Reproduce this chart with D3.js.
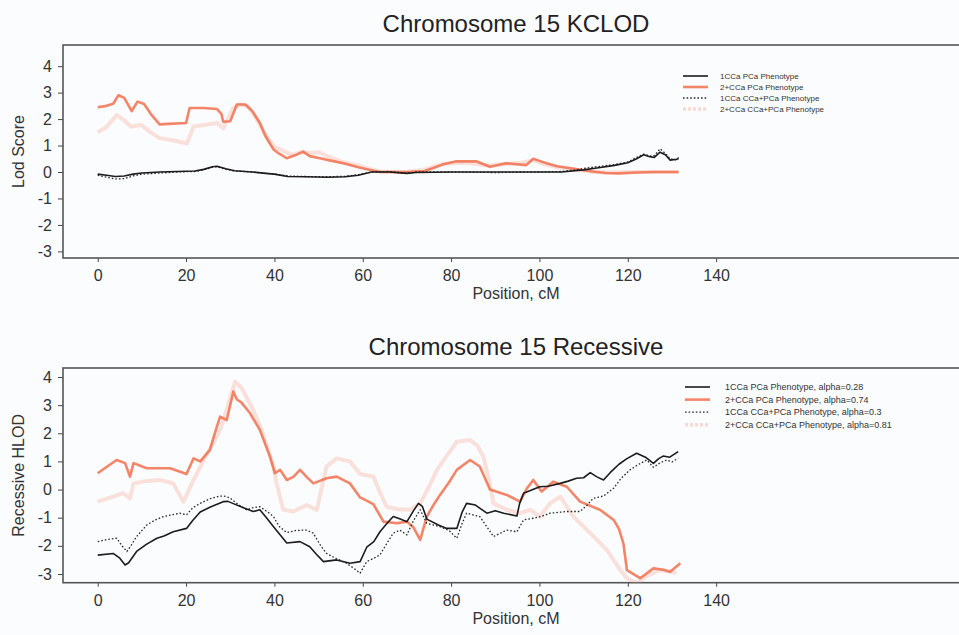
<!DOCTYPE html>
<html>
<head>
<meta charset="utf-8">
<script src="https://cdn.jsdelivr.net/npm/d3@7"></script>
<style>
	body { margin: 0; background: #fbfcfe; }
	svg { display: block; font-family: "Liberation Sans", Arial, sans-serif; }
	.axis_text { font-size: 16px; fill: #333; }
</style>
</head>
<body>
<div id="chart"></div>
<script>
// x ticks shared by both panels
const x_ticks = [0, 20, 40, 60, 80, 100, 120, 140];
const y_ticks = [-3, -2, -1, 0, 1, 2, 3, 4];

// KCLOD panel, [position cM, lod]
const kc_1cca_pca = [[0,-0.08],[2,-0.12],[4,-0.17],[6,-0.15],[8,-0.08],[10,-0.04],[14,0],[18,0.02],[22,0.04],[24,0.1],[26,0.2],[27,0.22],[29,0.12],[31,0.05],[35,0],[38,-0.05],[40,-0.08],[43,-0.17],[47,-0.18],[52,-0.2],[56,-0.18],[59,-0.12],[62,0],[66,0],[70,-0.05],[72,-0.02],[80,0],[90,0],[100,0],[105,0],[110,0.08],[113,0.15],[117,0.25],[120,0.35],[122,0.5],[123.6,0.65],[125,0.58],[126,0.55],[127.3,0.75],[128.5,0.65],[129.6,0.45],[131,0.48],[131.5,0.5]];
const kc_2cca_pca = [[0,2.45],[2,2.5],[3.5,2.58],[4.7,2.9],[6,2.8],[7.7,2.3],[9,2.66],[10.5,2.57],[12,2.2],[14,1.8],[16,1.82],[20,1.85],[20.8,2.42],[24,2.42],[27,2.38],[28,2.2],[28.4,1.9],[30,1.92],[31.5,2.55],[33.4,2.55],[35,2.3],[36.7,1.85],[38,1.35],[39.8,0.85],[41,0.7],[42.8,0.52],[44.5,0.62],[46.5,0.77],[48,0.6],[50.3,0.52],[53,0.42],[55.6,0.33],[59,0.18],[62.4,0.05],[64,0],[70,0],[74,0.04],[76,0.15],[78,0.28],[81,0.4],[85.8,0.4],[88.8,0.2],[92.5,0.33],[97,0.26],[98.6,0.5],[100,0.42],[101.6,0.33],[104,0.22],[107.7,0.12],[112,0.02],[115,-0.04],[118,-0.05],[122,-0.02],[126,0],[131.5,0]];
const kc_1cca_ccapca = [[0,-0.12],[2,-0.2],[4,-0.26],[6,-0.25],[8,-0.15],[10,-0.08],[14,-0.04],[18,0],[22,0.02],[24,0.08],[26,0.18],[27,0.2],[29,0.1],[31,0.04],[35,0],[38,-0.05],[40,-0.08],[43,-0.15],[47,-0.17],[52,-0.18],[56,-0.16],[59,-0.1],[62,0],[66,0.02],[70,-0.05],[72,0],[80,0],[90,-0.02],[100,0],[105,0.02],[108,0.08],[112,0.18],[117,0.28],[120,0.38],[122,0.55],[123.6,0.68],[125,0.6],[126,0.62],[127.3,0.88],[128.5,0.7],[129.6,0.5],[131,0.45],[131.5,0.55]];
const kc_2cca_ccapca = [[0,1.5],[2,1.7],[4.3,2.15],[6,1.95],[7.5,1.72],[9.8,1.78],[12,1.5],[14,1.28],[17,1.2],[20.2,1.08],[21.7,1.72],[24,1.78],[27,1.85],[28.4,1.65],[30.6,2.4],[32,2.55],[34,2.5],[36,2.0],[38,1.4],[40,0.95],[42,0.8],[44,0.65],[46,0.75],[48,0.72],[50,0.75],[52,0.6],[55,0.4],[59,0.25],[62,0.1],[64,0.02],[70,0],[74,0.1],[78,0.3],[82,0.35],[85,0.32],[88,0.25],[92,0.3],[96,0.35],[98.5,0.45],[101,0.3],[104,0.18],[108,0.1],[112,0],[116,-0.02],[120,0],[126,0],[131.5,0]];

// Recessive panel, [position cM, hlod]
const rec_1cca_pca = [[0,-2.33],[3.5,-2.27],[5,-2.44],[6.2,-2.68],[7,-2.6],[8.8,-2.2],[11,-1.95],[13.4,-1.73],[15,-1.65],[17.1,-1.5],[20.1,-1.38],[21.5,-1.1],[23.2,-0.8],[25.5,-0.62],[28.4,-0.43],[29.5,-0.42],[30.7,-0.5],[33,-0.65],[35.2,-0.78],[36.7,-0.72],[38.2,-1.0],[39.8,-1.32],[41,-1.55],[42.8,-1.9],[45.8,-1.85],[48,-2.03],[49.5,-2.3],[51.1,-2.56],[54.1,-2.5],[57.1,-2.62],[59.4,-2.56],[60.9,-2.05],[62.5,-1.85],[63.9,-1.5],[65.5,-1.2],[66.9,-0.96],[68.5,-1.05],[70,-1.14],[71.5,-0.75],[72.6,-0.49],[73.5,-0.6],[74.5,-1.05],[77,-1.25],[79,-1.38],[81.3,-1.38],[82.5,-0.8],[83.5,-0.49],[85.5,-0.55],[88.1,-0.84],[90,-0.75],[91.9,-0.84],[94.9,-0.94],[95.5,-0.5],[96.4,-0.13],[98.5,0],[100.1,0.1],[102,0.12],[104.7,0.22],[106.5,0.3],[108.4,0.4],[110,0.42],[111.5,0.6],[113,0.45],[114.5,0.34],[116,0.6],[118,0.9],[119.8,1.1],[122,1.29],[124,1.15],[125.8,0.93],[127,1.1],[128,1.19],[129.5,1.15],[131.4,1.35]];
const rec_2cca_pca = [[0,0.58],[2,0.8],[4.3,1.05],[6.2,0.94],[7.3,0.46],[8.1,0.94],[11.1,0.76],[16.4,0.76],[20.1,0.55],[21.7,1.11],[23.2,1.0],[25.4,1.41],[26.5,2.0],[27.7,2.59],[29.2,2.47],[30.7,3.48],[31.5,3.2],[32.5,3.1],[34.5,2.71],[36.7,2.12],[39,1.17],[40.1,0.58],[41.3,0.7],[42.8,0.34],[44.3,0.45],[45.8,0.7],[47.3,0.45],[48.8,0.22],[51.8,0.4],[54.1,0.46],[57.1,0.22],[59.4,-0.28],[62.4,-0.52],[64.7,-1.14],[67.7,-1.2],[70,-1.14],[71.5,-1.35],[73,-1.79],[74.5,-0.96],[76,-0.55],[77.5,-0.19],[79.5,0.25],[81.3,0.7],[84.3,1.05],[86.5,0.82],[88.8,0],[92.6,-0.19],[95.6,-0.43],[97,0],[98.6,0.34],[100.5,-0.07],[103.1,0.28],[106.2,0.1],[109.2,-0.43],[113.7,-0.72],[116.8,-1.08],[118,-1.4],[119,-1.91],[119.8,-2.86],[122.8,-3.15],[125.8,-2.8],[128,-2.85],[129.6,-2.92],[131.9,-2.62]];
const rec_1cca_ccapca = [[0,-1.85],[2,-1.78],[4.3,-1.73],[5.5,-2.0],[6.6,-2.2],[7.5,-2.0],[8.8,-1.67],[11.1,-1.26],[13,-1.08],[14.9,-0.96],[18.6,-0.84],[20.1,-0.9],[21.5,-0.65],[23.2,-0.49],[25.5,-0.32],[27.7,-0.23],[29,-0.24],[30,-0.31],[32,-0.55],[33.7,-0.72],[35,-0.65],[36.7,-0.61],[38.5,-0.8],[39.8,-0.96],[41,-1.3],[42.8,-1.53],[45,-1.45],[47.3,-1.44],[48.8,-1.55],[50.5,-2.0],[51.8,-2.27],[54,-2.45],[56.3,-2.62],[58,-2.8],[59.4,-2.97],[60.9,-2.56],[62.4,-2.45],[63.9,-2.32],[65.5,-1.9],[66.9,-1.55],[68.4,-1.44],[70,-1.61],[71.5,-1.1],[73,-0.72],[74.5,-1.2],[77.5,-1.32],[79.5,-1.45],[81.3,-1.73],[82.5,-1.2],[83.5,-0.84],[86.5,-0.96],[88,-1.3],[89.6,-1.67],[92.6,-1.44],[94.9,-1.5],[96.4,-1.08],[98.6,-1.02],[100.5,-0.95],[102.4,-0.84],[106.2,-0.78],[109.2,-0.78],[110.8,-0.55],[112.2,-0.31],[114.5,-0.23],[116.8,0.05],[118.5,0.4],[120.5,0.7],[122.5,0.9],[124.3,1.05],[125.8,0.79],[127.3,0.95],[128.8,1.05],[130,0.98],[131.4,1.11]];
const rec_2cca_ccapca = [[0,-0.43],[3.5,-0.25],[5.7,-0.13],[7.3,-0.31],[8.1,0.22],[11,0.3],[14.1,0.34],[17.1,0.22],[19.4,-0.43],[21.7,0.34],[24,1.05],[26,1.6],[27.7,2.12],[29.5,3.0],[31.1,3.83],[32.6,3.6],[35.2,2.83],[37.4,2.0],[39.8,0.82],[40.5,0.22],[42,-0.72],[44.3,-0.78],[47.3,-0.55],[49.6,-0.72],[51.8,0.82],[54.1,1.11],[57.1,1.0],[59.4,0.55],[62.4,0.46],[63.9,-0.1],[65.4,-0.61],[68,-0.7],[70.7,-0.72],[73,-0.49],[75,0.1],[76.8,0.7],[79,1.2],[81.3,1.7],[84.3,1.76],[86,1.55],[87.3,1.17],[88.5,0.4],[89.6,-0.49],[92.6,-0.72],[95.6,-0.84],[97.9,-0.72],[100.1,-0.96],[102.4,-0.49],[104.7,-0.25],[107.7,-0.96],[111.5,-1.55],[115.3,-2.15],[118.3,-2.86],[119.8,-3.15],[122,-3.33],[124,-3.1],[127.3,-2.86],[131,-2.97]];

const kc_labels = ["1CCa PCa Phenotype", "2+CCa PCa Phenotype", "1CCa CCa+PCa Phenotype", "2+CCa CCa+PCa Phenotype"];
const rec_labels = ["1CCa PCa Phenotype, alpha=0.28", "2+CCa PCa Phenotype, alpha=0.74", "1CCa CCa+PCa Phenotype, alpha=0.3", "2+CCa CCa+PCa Phenotype, alpha=0.81"];

// line styles, same order as the labels
const styles = [
	{stroke: "#1c1c1c", width: 1.6, dash: null, opacity: 1},
	{stroke: "#f26a48", width: 2.6, dash: null, opacity: 0.82},
	{stroke: "#2a2a2a", width: 1.3, dash: "1.6,2", opacity: 1},
	{stroke: "#f7a58e", width: 4, dash: null, opacity: 0.32}
];

const W = 959, H = 635;
const svg = d3.select("#chart").append("svg")
	.attr("width", W)
	.attr("height", H);

class lod_panel {
	constructor(opts) {
		this.series = opts.series;
		this.labels = opts.labels;
		this.title = opts.title;
		this.y_label = opts.y_label;
		this.top = opts.top;
		this.bottom = opts.bottom;
		this.y_domain = opts.y_domain;
		this.legend = opts.legend;
		this.id = opts.id;
		this.left = 63;
		this.right = 975;
		this.init();
	}

	init() {
		this.g = svg.append("g");
		this.create_scales();
		this.create_axes();
		this.create_lines();
		this.create_legend();
	}

	create_scales() {
		this.x_scale = d3.scaleLinear()
			.domain([-7.86, 198.6])
			.range([this.left, this.right]);
		this.y_scale = d3.scaleLinear()
			.domain(this.y_domain)
			.range([this.bottom, this.top]);
	}

	create_axes() {
		const mid = (this.left + 969) / 2;

		this.g.append("text")
			.attr("x", mid)
			.attr("y", this.top - 13)
			.attr("text-anchor", "middle")
			.style("font-size", "24px")
			.style("fill", "#222")
			.text(this.title);

		this.g.append("g")
			.attr("transform", `translate(0,${this.bottom})`)
			.call(d3.axisBottom(this.x_scale).tickValues(x_ticks).tickSize(4).tickPadding(8))
			.call(g => g.select(".domain").remove())
			.call(g => g.selectAll("line").attr("stroke", "#444"))
			.selectAll("text")
			.attr("class", "axis_text");

		// plain hyphen for negatives, like the original
		this.g.append("g")
			.attr("transform", `translate(${this.left},0)`)
			.call(d3.axisLeft(this.y_scale).tickValues(y_ticks).tickFormat(d => String(d)).tickSize(5).tickPadding(6))
			.call(g => g.select(".domain").remove())
			.call(g => g.selectAll("line").attr("stroke", "#444"))
			.selectAll("text")
			.attr("class", "axis_text");

		this.g.append("text")
			.attr("x", mid)
			.attr("y", this.bottom + 41)
			.attr("text-anchor", "middle")
			.attr("class", "axis_text")
			.text("Position, cM");

		this.g.append("text")
			.attr("transform", `translate(24,${(this.top + this.bottom) / 2}) rotate(-90)`)
			.attr("text-anchor", "middle")
			.attr("class", "axis_text")
			.text(this.y_label);

		// plot box, right edge falls off the picture
		this.g.append("rect")
			.attr("x", this.left)
			.attr("y", this.top)
			.attr("width", this.right - this.left)
			.attr("height", this.bottom - this.top)
			.attr("fill", "none")
			.attr("stroke", "#555")
			.attr("stroke-width", 1.6);
	}

	create_lines() {
		this.g.append("clipPath")
			.attr("id", "clip_" + this.id)
			.append("rect")
			.attr("x", this.left)
			.attr("y", this.top)
			.attr("width", this.right - this.left)
			.attr("height", this.bottom - this.top);

		const line = d3.line()
			.x(d => this.x_scale(d[0]))
			.y(d => this.y_scale(d[1]));

		// faint ones first so the solid lines sit on top
		const order = [3, 1, 2, 0];
		this.g.append("g")
			.attr("clip-path", `url(#clip_${this.id})`)
			.selectAll("path")
			.data(order)
			.enter()
			.append("path")
			.attr("d", i => line(this.series[i]))
			.attr("fill", "none")
			.attr("stroke", i => styles[i].stroke)
			.attr("stroke-width", i => styles[i].width)
			.attr("stroke-opacity", i => styles[i].opacity)
			.attr("stroke-dasharray", i => styles[i].dash)
			.attr("stroke-linejoin", "round");
	}

	create_legend() {
		const lg = this.legend;
		const rows = this.g.append("g")
			.selectAll("g")
			.data(this.labels)
			.enter()
			.append("g")
			.attr("transform", (d, i) => `translate(${lg.x},${lg.y + i * lg.step})`);

		rows.append("line")
			.attr("x1", 0)
			.attr("x2", 25)
			.attr("stroke", (d, i) => styles[i].stroke)
			.attr("stroke-width", (d, i) => i == 3 ? 3.5 : styles[i].width)
			.attr("stroke-opacity", (d, i) => i == 3 ? 0.4 : styles[i].opacity)
			.attr("stroke-dasharray", (d, i) => i == 3 ? "3,2" : styles[i].dash);

		rows.append("text")
			.attr("x", lg.text_x)
			.attr("dy", "0.35em")
			.style("font-size", lg.size + "px")
			.style("fill", "#333")
			.text(d => d);
	}
}

new lod_panel({
	id: "kc",
	series: [kc_1cca_pca, kc_2cca_pca, kc_1cca_ccapca, kc_2cca_ccapca],
	labels: kc_labels,
	title: "Chromosome 15 KCLOD",
	y_label: "Lod Score",
	top: 45,
	bottom: 258,
	y_domain: [-3.25, 4.8],
	legend: {x: 683, y: 76, step: 11, text_x: 37, size: 8}
});

new lod_panel({
	id: "rec",
	series: [rec_1cca_pca, rec_2cca_pca, rec_1cca_ccapca, rec_2cca_ccapca],
	labels: rec_labels,
	title: "Chromosome 15 Recessive",
	y_label: "Recessive HLOD",
	top: 368,
	bottom: 582.7,
	y_domain: [-3.31, 4.32],
	legend: {x: 685, y: 387, step: 12.6, text_x: 40, size: 9}
});
</script>
</body>
</html>
